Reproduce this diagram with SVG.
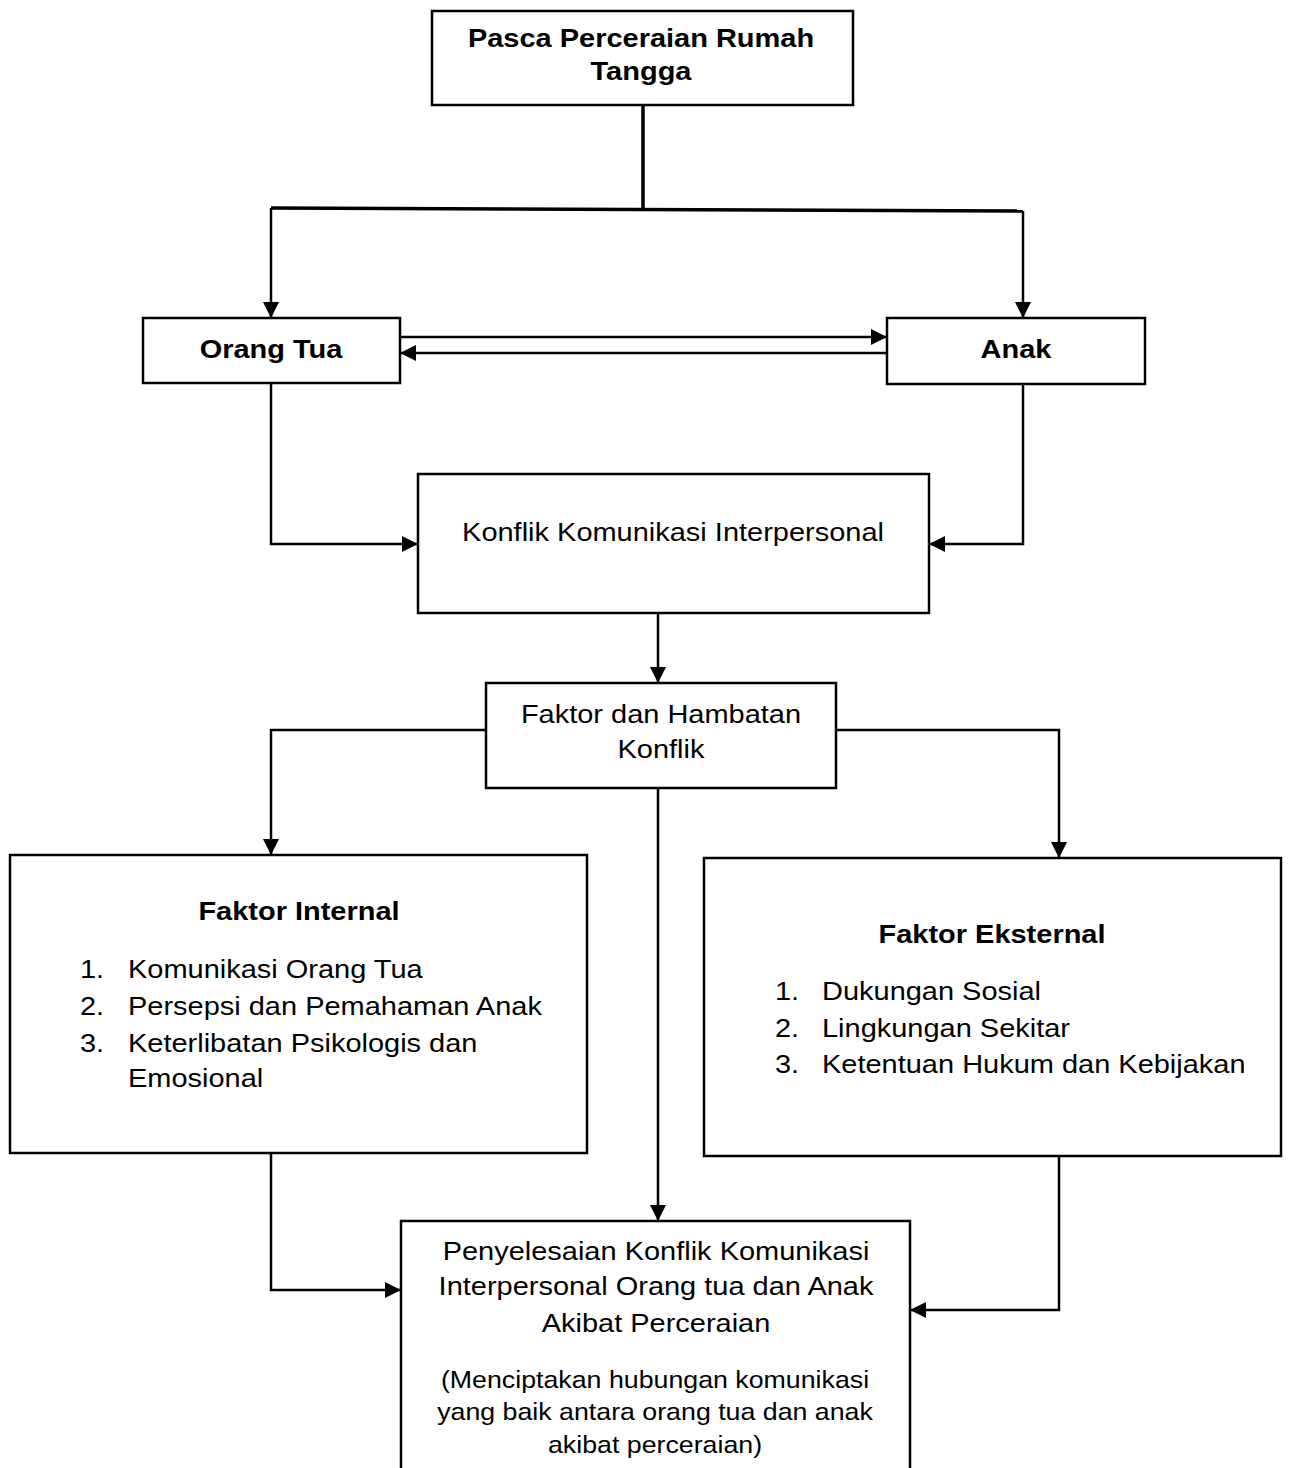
<svg xmlns="http://www.w3.org/2000/svg" width="1289" height="1468" viewBox="0 0 1289 1468">
<style>
.box{fill:#fff;stroke:#000;stroke-width:2.5}
.ln{fill:none;stroke:#000;stroke-width:2.5}
.thick{stroke-width:3.5}
.arr{marker-end:url(#ah)}
text{font-family:"Liberation Sans",Arial,sans-serif;font-size:26px;fill:#000}
.c{text-anchor:middle}
.b{font-weight:bold}
.s{font-size:24px}
</style>
<defs>
<marker id="ah" markerUnits="userSpaceOnUse" markerWidth="16" markerHeight="16" refX="16" refY="8" orient="auto">
<path d="M0,0 L16,8 L0,16 z" fill="#000"/>
</marker>
</defs>
<rect x="0" y="0" width="1289" height="1468" fill="#fff"/>
<g id="connectors">
<path class="ln thick" d="M643,105 V209"/>
<path class="ln thick" d="M271,208 L1023,211"/>
<path class="ln arr" d="M271,208 V318"/>
<path class="ln arr" d="M1023,211 V318"/>
<path class="ln arr" d="M400,337 H887"/>
<path class="ln arr" d="M887,353 H400"/>
<path class="ln arr" d="M271,383 V544 H418"/>
<path class="ln arr" d="M1023,384 V544 H929"/>
<path class="ln arr" d="M658,613 V683"/>
<path class="ln arr" d="M486,730 H271 V855"/>
<path class="ln arr" d="M836,730 H1059 V858"/>
<path class="ln arr" d="M658,788 V1221"/>
<path class="ln arr" d="M271,1153 V1290 H401"/>
<path class="ln arr" d="M1059,1156 V1310 H910"/>
</g>
<g id="n-pasca">
<rect class="box" x="432" y="11" width="421" height="94"/>
<text class="c b" transform="translate(641 47) scale(1.115 1)">Pasca Perceraian Rumah</text>
<text class="c b" transform="translate(641 80) scale(1.115 1)">Tangga</text>
</g>
<g id="n-orangtua">
<rect class="box" x="143" y="318" width="257" height="65"/>
<text class="c b" transform="translate(271 358) scale(1.115 1)">Orang Tua</text>
</g>
<g id="n-anak">
<rect class="box" x="887" y="318" width="258" height="66"/>
<text class="c b" transform="translate(1016 358) scale(1.115 1)">Anak</text>
</g>
<g id="n-konflik">
<rect class="box" x="418" y="474" width="511" height="139"/>
<text class="c" transform="translate(673 541) scale(1.115 1)">Konflik Komunikasi Interpersonal</text>
</g>
<g id="n-faktor">
<rect class="box" x="486" y="683" width="350" height="105"/>
<text class="c" transform="translate(661 723) scale(1.115 1)">Faktor dan Hambatan</text>
<text class="c" transform="translate(661 758) scale(1.115 1)">Konflik</text>
</g>
<g id="n-internal">
<rect class="box" x="10" y="855" width="577" height="298"/>
<text class="c b" transform="translate(299 920) scale(1.115 1)">Faktor Internal</text>
<text transform="translate(80 978) scale(1.115 1)">1.</text>
<text transform="translate(128 978) scale(1.115 1)">Komunikasi Orang Tua</text>
<text transform="translate(80 1015) scale(1.115 1)">2.</text>
<text transform="translate(128 1015) scale(1.115 1)">Persepsi dan Pemahaman Anak</text>
<text transform="translate(80 1052) scale(1.115 1)">3.</text>
<text transform="translate(128 1052) scale(1.115 1)">Keterlibatan Psikologis dan</text>
<text transform="translate(128 1087) scale(1.115 1)">Emosional</text>
</g>
<g id="n-eksternal">
<rect class="box" x="704" y="858" width="577" height="298"/>
<text class="c b" transform="translate(992 943) scale(1.115 1)">Faktor Eksternal</text>
<text transform="translate(775 1000) scale(1.115 1)">1.</text>
<text transform="translate(822 1000) scale(1.115 1)">Dukungan Sosial</text>
<text transform="translate(775 1037) scale(1.115 1)">2.</text>
<text transform="translate(822 1037) scale(1.115 1)">Lingkungan Sekitar</text>
<text transform="translate(775 1073) scale(1.115 1)">3.</text>
<text transform="translate(822 1073) scale(1.115 1)">Ketentuan Hukum dan Kebijakan</text>
</g>
<g id="n-penyelesaian">
<rect class="box" x="401" y="1221" width="509" height="300"/>
<text class="c" transform="translate(656 1260) scale(1.115 1)">Penyelesaian Konflik Komunikasi</text>
<text class="c" transform="translate(656 1295) scale(1.115 1)">Interpersonal Orang tua dan Anak</text>
<text class="c" transform="translate(656 1332) scale(1.115 1)">Akibat Perceraian</text>
<text class="c s" transform="translate(655 1388) scale(1.115 1)">(Menciptakan hubungan komunikasi</text>
<text class="c s" transform="translate(655 1420) scale(1.115 1)">yang baik antara orang tua dan anak</text>
<text class="c s" transform="translate(655 1453) scale(1.115 1)">akibat perceraian)</text>
</g>
</svg>
